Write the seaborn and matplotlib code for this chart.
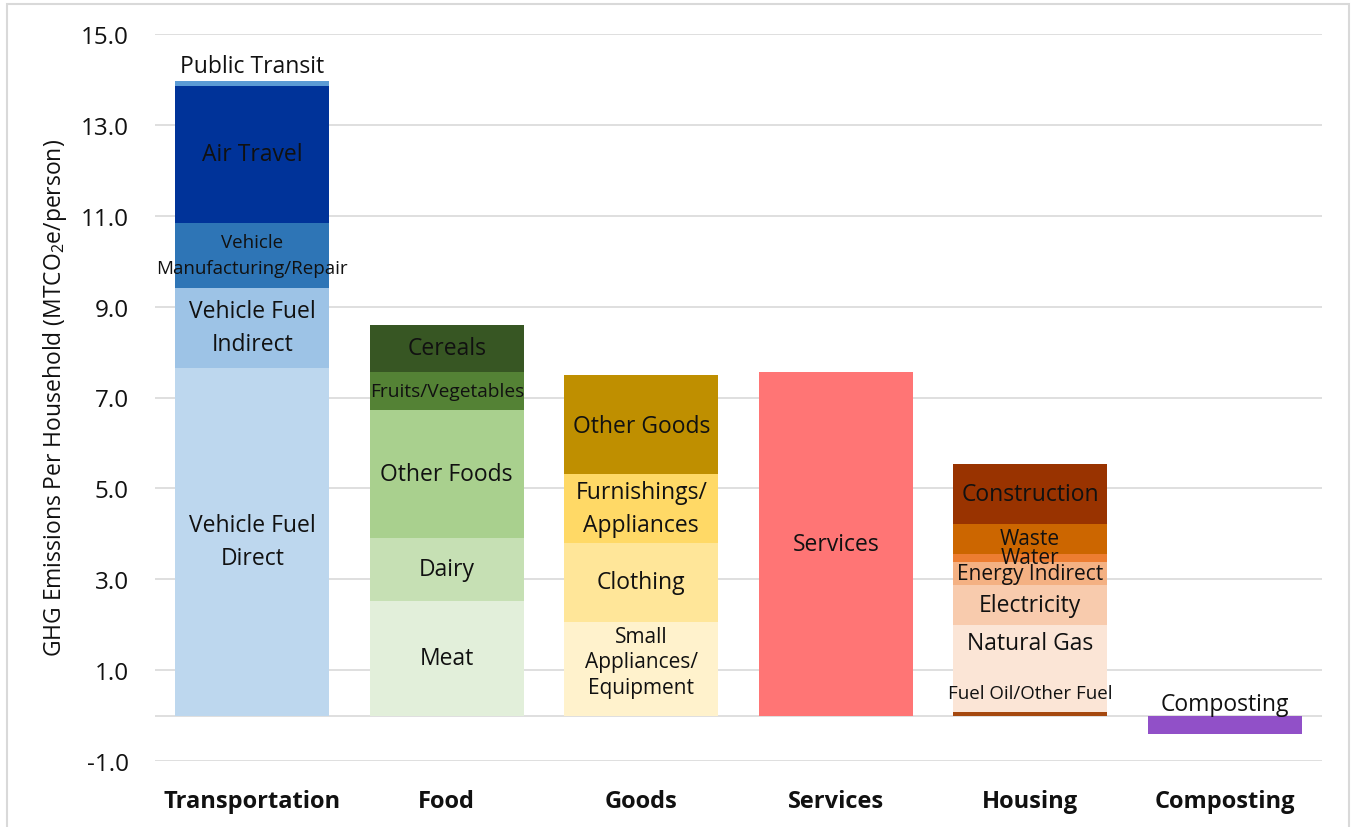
import numpy as np
import pandas as pd
import matplotlib
matplotlib.use("Agg")
import matplotlib.pyplot as plt
from matplotlib.patches import Rectangle
import seaborn as sns

# ---- data -------------------------------------------------------------
categories = ["Transportation", "Food", "Goods", "Services", "Housing", "Composting"]

transport_segments = ["Vehicle Fuel\nDirect", "Vehicle Fuel\nIndirect",
                      "Vehicle\nManufacturing/Repair", "Air Travel", "Public Transit"]
transport_values = [7.65, 1.77, 1.42, 3.02, 0.11]

food_segments = ["Meat", "Dairy", "Other Foods", "Fruits/Vegetables", "Cereals"]
food_values = [2.52, 1.39, 2.82, 0.83, 1.04]

goods_segments = ["Small\nAppliances/\nEquipment", "Clothing",
                  "Furnishings/\nAppliances", "Other Goods"]
goods_values = [2.06, 1.74, 1.52, 2.18]

services_segments = ["Services"]
services_values = [7.56]

housing_segments = ["Fuel Oil/Other Fuel", "Natural Gas", "Electricity",
                    "Energy Indirect", "Water", "Waste", "Construction"]
housing_values = [0.08, 1.92, 0.88, 0.51, 0.17, 0.66, 1.32]

composting_segments = ["Composting"]
composting_values = [-0.40]

y_ticks = [-1.0, 1.0, 3.0, 5.0, 7.0, 9.0, 11.0, 13.0, 15.0]

# ---- styling ----------------------------------------------------------
colors = {
    "Vehicle Fuel\nDirect": "#BDD7EE",
    "Vehicle Fuel\nIndirect": "#9DC3E6",
    "Vehicle\nManufacturing/Repair": "#2E75B6",
    "Air Travel": "#003399",
    "Public Transit": "#5B9BD5",
    "Meat": "#E2EFDA",
    "Dairy": "#C6E0B4",
    "Other Foods": "#A9D08E",
    "Fruits/Vegetables": "#548235",
    "Cereals": "#375623",
    "Small\nAppliances/\nEquipment": "#FFF2CC",
    "Clothing": "#FFE699",
    "Furnishings/\nAppliances": "#FFD966",
    "Other Goods": "#BF8F00",
    "Services": "#FF7575",
    "Fuel Oil/Other Fuel": "#A5480F",
    "Natural Gas": "#FBE5D6",
    "Electricity": "#F8CBAD",
    "Energy Indirect": "#F4B183",
    "Water": "#ED7D31",
    "Waste": "#CC6600",
    "Construction": "#993300",
    "Composting": "#9150C8",
}

font_sizes = {
    "Vehicle\nManufacturing/Repair": 13.5,
    "Fruits/Vegetables": 13.8,
    "Fuel Oil/Other Fuel": 13.5,
    "Small\nAppliances/\nEquipment": 15,
    "Energy Indirect": 15,
    "Waste": 15,
    "Water": 15,
}
line_spacing = {
    "Vehicle\nManufacturing/Repair": 1.55,
    "Small\nAppliances/\nEquipment": 1.3,
}

# label shifts (data units) where a label sits off its segment centre
label_shift = {
    "Public Transit": 0.38,
    "Natural Gas": 0.56,
    "Fuel Oil/Other Fuel": 0.46,
    "Small\nAppliances/\nEquipment": 0.15,
    "Composting": 0.46,
    "Other Goods": -0.04,
}

# ---- long-form table --------------------------------------------------
groups = [
    ("Transportation", transport_segments, transport_values),
    ("Food", food_segments, food_values),
    ("Goods", goods_segments, goods_values),
    ("Services", services_segments, services_values),
    ("Housing", housing_segments, housing_values),
    ("Composting", composting_segments, composting_values),
]
rows = []
for cat, segs, vals in groups:
    tops = np.cumsum(vals)
    bottoms = tops - np.array(vals)
    for s, v, b, t in zip(segs, vals, bottoms, tops):
        rows.append(dict(category=cat, segment=s, value=v, bottom=b, top=t))
df = pd.DataFrame(rows)

# ---- figure -----------------------------------------------------------
sns.set_theme(style="white")
plt.rcParams["font.family"] = ["Open Sans", "DejaVu Sans"]
plt.rcParams["mathtext.fontset"] = "custom"
plt.rcParams["mathtext.rm"] = "Open Sans"

fig = plt.figure(figsize=(13.53, 8.28), dpi=100)
ax = fig.add_axes([155 / 1353, 1 - 762 / 828, (1322 - 155) / 1353, (762 - 35) / 828])

# stacked bars: draw cumulative tops from the tallest down so lower
# segments cover the upper ones
bar_width = 0.79
for _, r in df.sort_values("top", ascending=False).iterrows():
    sns.barplot(x=[r["category"]], y=[r["top"]], order=categories,
                color=colors[r["segment"]], saturation=1, width=bar_width,
                errorbar=None, linewidth=0, ax=ax, zorder=2)

# segment labels
xpos = {c: i for i, c in enumerate(categories)}
for _, r in df.iterrows():
    y = (r["bottom"] + r["top"]) / 2 + label_shift.get(r["segment"], 0.0)
    ax.text(xpos[r["category"]], y, r["segment"], ha="center", va="center",
            fontsize=font_sizes.get(r["segment"], 16.5), color="#111111",
            linespacing=line_spacing.get(r["segment"], 1.5), zorder=5)

# axes styling
ax.set_ylim(-1, 15)
ax.set_xlim(-0.5, len(categories) - 0.5)
ax.set_yticks(y_ticks)
ax.set_yticklabels([f"{t:.1f}" for t in y_ticks], fontsize=17.5, color="#111111")
ax.yaxis.grid(True, color="#D9D9D9", linewidth=1.2)
ax.axhline(0, color="#D9D9D9", linewidth=1.2, zorder=1)
ax.set_axisbelow(True)
for sp in ax.spines.values():
    sp.set_visible(False)
ax.tick_params(axis="y", length=0, pad=19)
ax.tick_params(axis="x", length=0, pad=20)
ax.set_xlabel("")
ax.set_xticks(range(len(categories)))
ax.set_xticklabels(categories, fontsize=17, fontweight="bold", color="#111111")
ax.set_ylabel(r"GHG Emissions Per Household (MTCO$\mathregular{_2}$e/person)",
              fontsize=16.5, color="#111111", labelpad=8)

# chart-area frame
fig.patches.append(Rectangle((7 / 1353, -0.01), (1349 - 7) / 1353, 1.01 - 5 / 828,
                             transform=fig.transFigure, fill=False,
                             edgecolor="#D9D9D9", linewidth=1.5))

fig.savefig("out.png", dpi=100, facecolor="white")
